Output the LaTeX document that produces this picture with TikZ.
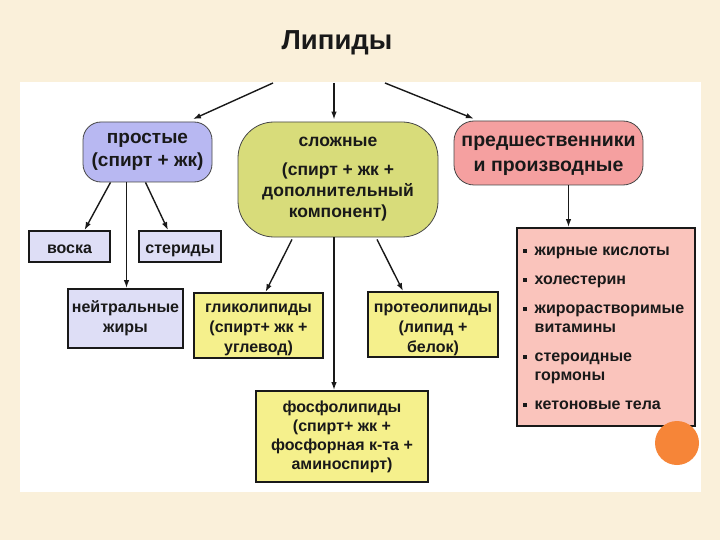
\documentclass[tikz,border=0pt]{standalone}
\usepackage{fontspec}
\setmainfont{Liberation Sans}
\usetikzlibrary{arrows.meta,calc}
\definecolor{bgcream}{RGB}{250,240,218}
\definecolor{lav}{RGB}{184,184,242}
\definecolor{lavlight}{RGB}{222,222,246}
\definecolor{olive}{RGB}{216,220,122}
\definecolor{ylw}{RGB}{245,240,140}
\definecolor{salmon}{RGB}{245,160,160}
\definecolor{salmonlight}{RGB}{250,196,188}
\definecolor{orng}{RGB}{246,133,56}
\definecolor{ink}{RGB}{25,25,25}
\newcommand\tpad[1]{\rule{0pt}{#1}}
\tikzset{
  x=1pt,y=-1pt,
  every node/.style={font=\bfseries\fontsize{16}{20}\selectfont, text=ink, inner sep=0pt, align=center},
  roundbox/.style={draw=ink!80, line width=0.8pt},
  sqbox/.style={draw=ink, line width=1.8pt, font=\bfseries\fontsize{16}{20}\selectfont},
  arr/.style={draw=ink, line width=1.4pt, -{Latex[length=8pt,width=5.5pt]}},
}
\begin{document}
\begin{tikzpicture}
\useasboundingbox (0,0) rectangle (720,540);
\fill[bgcream] (0,0) rectangle (720,540);
\fill[white] (20,82) rectangle (701,492);

\node[font=\bfseries\fontsize{27.5}{32}\selectfont] (title) at (337,43) {Липиды};
\coordinate (hubL) at (273,83);
\coordinate (hubM) at (334,83);
\coordinate (hubR) at (385,83);

\node[roundbox, fill=lav, rounded corners=18pt, minimum width=129pt, minimum height=60pt, font=\bfseries\fontsize{19}{22.5}\selectfont] (prost) at (147.5,152) {простые\\(спирт + жк)};
\node[roundbox, fill=olive, rounded corners=36pt, minimum width=200pt, minimum height=115pt, font=\bfseries\fontsize{17.5}{21}\selectfont] (slozh) at (338,179.5) {сложные\\[8pt](спирт + жк +\\дополнительный\\компонент)};
\node[roundbox, fill=salmon, rounded corners=20pt, minimum width=189pt, minimum height=64pt, font=\bfseries\fontsize{19.5}{25}\selectfont] (pred) at (548.5,153) {\tpad{17pt}предшественники\\и производные};

\node[sqbox, fill=lavlight, minimum width=81pt, minimum height=31pt] (voska) at (69.5,246.5) {\tpad{14.5pt}воска};
\node[sqbox, fill=lavlight, minimum width=82pt, minimum height=31pt] (sterid) at (180,246.5) {\tpad{18pt}стериды};
\node[sqbox, fill=lavlight, minimum width=115pt, minimum height=59pt] (neutral) at (125.5,318.5) {нейтральные\\жиры};

\node[sqbox, fill=ylw, minimum width=129pt, minimum height=65pt] (glyco) at (258.5,325.5) {\tpad{16.5pt}гликолипиды\\(спирт+ жк +\\углевод)};
\node[sqbox, fill=ylw, minimum width=130pt, minimum height=65pt] (proteo) at (433,324.5) {\tpad{19pt}протеолипиды\\(липид +\\белок)};
\node[sqbox, fill=ylw, minimum width=172pt, minimum height=91pt, font=\bfseries\fontsize{16}{19}\selectfont] (phospho) at (342,436.5) {фосфолипиды\\(спирт+ жк +\\фосфорная к-та +\\аминоспирт)};

\node[sqbox, fill=salmonlight, minimum width=178pt, minimum height=198pt] (listbox) at (606,327) {};
\node[anchor=north west, align=left, font=\bfseries\fontsize{16}{19}\selectfont] (listtext) at (523,242)
{\begin{tabular}{@{}l@{\hspace{7.5pt}}l@{}}
\raisebox{3pt}{\rule{4pt}{4pt}} & жирные кислоты\\[10pt]
\raisebox{3pt}{\rule{4pt}{4pt}} & холестерин\\[10pt]
\raisebox{3pt}{\rule{4pt}{4pt}} & жирорастворимые\\
 & витамины\\[10pt]
\raisebox{3pt}{\rule{4pt}{4pt}} & стероидные\\
 & гормоны\\[10pt]
\raisebox{3pt}{\rule{4pt}{4pt}} & кетоновые тела
\end{tabular}};

\fill[orng] (677,443) circle (22);

\draw[arr, shorten >=6pt] (hubL) -- ([xshift=40]prost.north);
\draw[arr, shorten >=2pt] (hubM) -- (hubM |- slozh.north);
\draw[arr, shorten >=5pt] (hubR) -- ([xshift=-70]pred.north);

\draw[arr] ([xshift=-37]prost.south) -- ([xshift=15]voska.north);
\draw[arr] ([xshift=-21]prost.south) -- ([xshift=-21]prost.south |- neutral.north);
\draw[arr] ([xshift=-2]prost.south) -- ([xshift=-12]sterid.north);

\draw[arr] ([xshift=-46,yshift=-2]slozh.south) -- ([xshift=7]glyco.north);
\draw[arr] ([xshift=39,yshift=-2]slozh.south) -- ([xshift=-30]proteo.north);
\draw[arr] ([xshift=-4]slozh.south) -- ([xshift=-4]slozh.south |- phospho.north);

\draw[arr] ([xshift=20]pred.south) -- ([xshift=20]pred.south |- listbox.north);
\end{tikzpicture}
\end{document}
